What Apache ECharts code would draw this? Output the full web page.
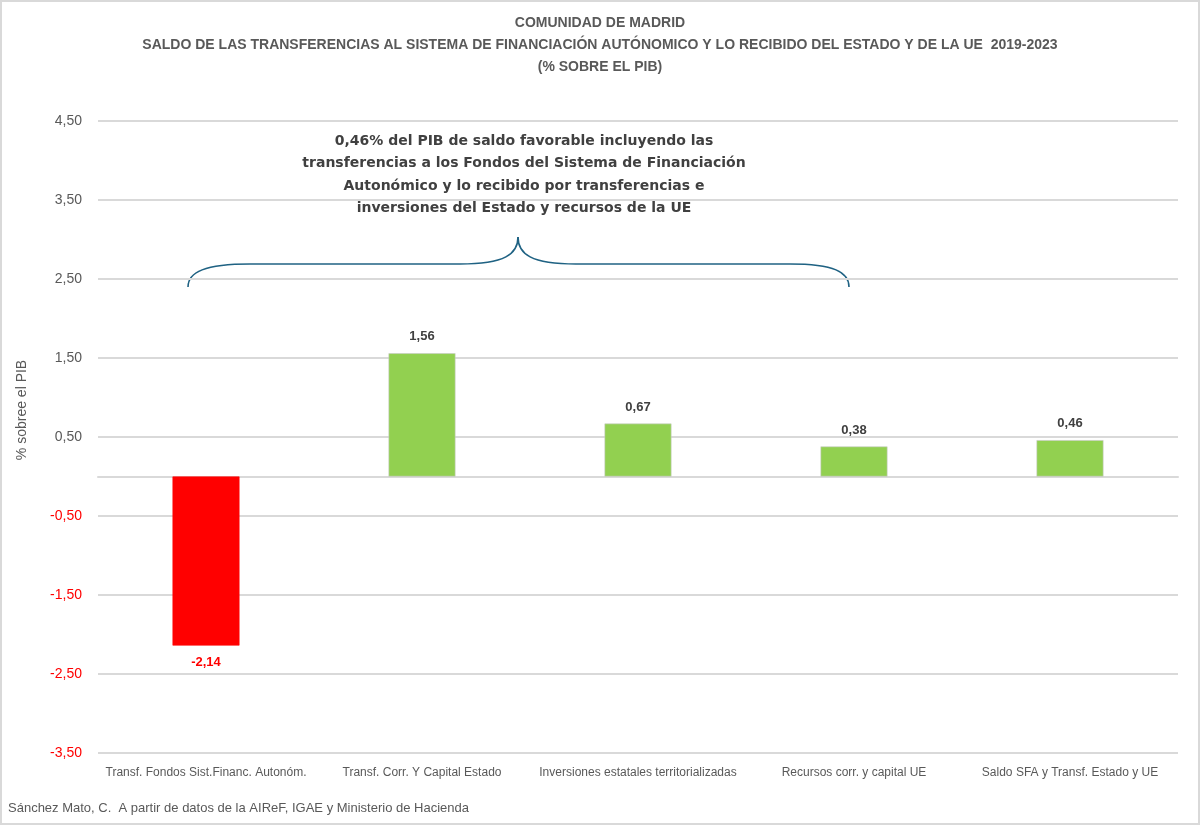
<!DOCTYPE html>
<html>
<head>
<meta charset="utf-8">
<script src="https://cdn.jsdelivr.net/npm/echarts@6/dist/echarts.min.js"></script>
<style>
  html, body { margin: 0; padding: 0; background: #fff; }
  #chart { width: 1200px; height: 825px; box-sizing: border-box; border: 2px solid #d9d9d9; }
</style>
</head>
<body>
<div id="chart"></div>
<script>
const categories = [
  "Transf. Fondos Sist.Financ. Autonóm.",
  "Transf. Corr. Y Capital Estado",
  "Inversiones estatales territorializadas",
  "Recursos corr. y capital UE",
  "Saldo SFA y Transf. Estado y UE"
];
const values = [-2.14, 1.56, 0.67, 0.38, 0.46];
const yMin = -3.5, yMax = 4.5, yStep = 1;

const fmt = v => v.toFixed(2).replace(".", ",");

const chart = echarts.init(document.getElementById("chart"));

// curly brace over the first four bars
const braceColor = "#1f6283";
const braceStyle = { stroke: braceColor, lineWidth: 1.6, fill: null };

const option = {
  animation: false,
  title: {
    text: "COMUNIDAD DE MADRID\nSALDO DE LAS TRANSFERENCIAS AL SISTEMA DE FINANCIACIÓN AUTÓNOMICO Y LO RECIBIDO DEL ESTADO Y DE LA UE  2019-2023\n(% SOBRE EL PIB)",
    left: "center",
    top: 5,
    textStyle: {
      fontFamily: "Liberation Sans",
      fontSize: 14,
      fontWeight: "bold",
      color: "#595959",
      lineHeight: 22
    }
  },
  grid: { left: 96, right: 20, top: 119, bottom: 70, containLabel: false },
  xAxis: [
    {
      type: "category",
      data: categories,
      position: "bottom",
      axisLine: { show: false, onZero: false },
      axisTick: { show: false },
      axisLabel: {
        interval: 0,
        margin: 14,
        fontFamily: "Liberation Sans",
        fontSize: 12,
        color: "#595959"
      }
    },
    {
      type: "category",
      data: categories,
      position: "bottom",
      axisLine: { show: true, onZero: true, lineStyle: { color: "#d9d9d9", width: 2 } },
      axisTick: { show: false },
      axisLabel: { show: false }
    }
  ],
  yAxis: {
    type: "value",
    min: yMin,
    max: yMax,
    interval: yStep,
    axisLine: { show: false },
    axisTick: { show: false },
    splitLine: { lineStyle: { color: "#d9d9d9", width: 2 } },
    axisLabel: {
      margin: 16,
      fontFamily: "Liberation Sans",
      fontSize: 14,
      formatter: v => fmt(v),
      color: v => (Number(v) < 0 ? "#ff0000" : "#595959")
    }
  },
  series: [
    {
      type: "bar",
      xAxisIndex: 0,
      barWidth: "31%",
      data: values.map(v => ({
        value: v,
        itemStyle: { color: v < 0 ? "#ff0000" : "#92d050", borderColor: v < 0 ? "#ff0000" : "#c9c9c9", borderWidth: 0.6 },
        label: { color: v < 0 ? "#ff0000" : "#404040" }
      })),
      label: {
        show: true,
        position: "outside",
        distance: 10,
        fontFamily: "Liberation Sans",
        fontSize: 13,
        fontWeight: "bold",
        formatter: p => fmt(p.value)
      }
    }
  ],
  graphic: [
    {
      type: "text",
      x: 6,
      y: 800,
      style: {
        text: "Sánchez Mato, C.  A partir de datos de la AIReF, IGAE y Ministerio de Hacienda",
        font: "13px 'Liberation Sans'",
        fill: "#595959"
      }
    },
    {
      type: "text",
      x: 20,
      y: 408,
      rotation: Math.PI / 2,
      style: {
        text: "% sobree el PIB",
        font: "14px 'Liberation Sans'",
        fill: "#595959",
        align: "center",
        verticalAlign: "middle"
      }
    },
    {
      type: "text",
      x: 522,
      y: 128,
      style: {
        text: "0,46% del PIB de saldo favorable incluyendo las\ntransferencias a los Fondos del Sistema de Financiación\nAutonómico y lo recibido por transferencias e\ninversiones del Estado y recursos de la UE",
        font: "bold 14px 'DejaVu Sans'",
        fill: "#404040",
        align: "center",
        lineHeight: 22.5
      }
    },
    { type: "bezierCurve", shape: { x1: 186, y1: 285, cpx1: 186, cpy1: 270, cpx2: 203, cpy2: 262, x2: 248, y2: 262 }, style: braceStyle },
    { type: "line", shape: { x1: 248, y1: 262, x2: 458, y2: 262 }, style: braceStyle },
    { type: "bezierCurve", shape: { x1: 458, y1: 262, cpx1: 503, cpy1: 262, cpx2: 516, cpy2: 252, x2: 516, y2: 235 }, style: braceStyle },
    { type: "bezierCurve", shape: { x1: 516, y1: 235, cpx1: 516, cpy1: 252, cpx2: 529, cpy2: 262, x2: 574, y2: 262 }, style: braceStyle },
    { type: "line", shape: { x1: 574, y1: 262, x2: 788, y2: 262 }, style: braceStyle },
    { type: "bezierCurve", shape: { x1: 788, y1: 262, cpx1: 832, cpy1: 262, cpx2: 847, cpy2: 270, x2: 847, y2: 285 }, style: braceStyle }
  ]
};

chart.setOption(option);
</script>
</body>
</html>
